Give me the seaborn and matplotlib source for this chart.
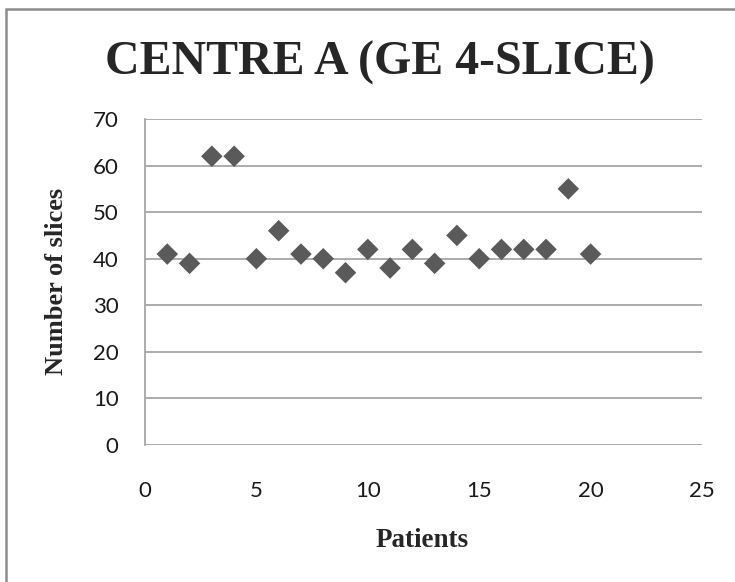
import matplotlib
matplotlib.use("Agg")
import matplotlib.pyplot as plt
import seaborn as sns
import pandas as pd
from matplotlib.patches import Rectangle

patients = list(range(1, 21))
slices = [41, 39, 62, 62, 40, 46, 41, 40, 37, 42, 38, 42, 39, 45, 40, 42, 42, 42, 55, 41]
x_ticks = [0, 5, 10, 15, 20, 25]
y_ticks = [0, 10, 20, 30, 40, 50, 60, 70]

df = pd.DataFrame({"Patients": patients, "Number of slices": slices})

sns.set_style("white")
plt.rcParams["font.family"] = ["Lato", "DejaVu Sans"]

W, H = 735, 582
fig = plt.figure(figsize=(W / 100, H / 100), dpi=100)
ax = fig.add_axes([145 / W, 1 - 445 / H, (702 - 145) / W, (445 - 119) / H])

sns.scatterplot(data=df, x="Patients", y="Number of slices", ax=ax,
                marker="D", s=120, color="#5a5a5a", edgecolor="none", zorder=3)

ax.set_xlim(0, 25)
ax.set_ylim(0, 70)
ax.set_xticks(x_ticks)
ax.set_yticks(y_ticks)
ax.yaxis.grid(True, color="#a6a6a6", linewidth=1.3)
ax.xaxis.grid(False)
for side in ["top", "right", "bottom"]:
    ax.spines[side].set_visible(False)
ax.spines["left"].set_color("#a6a6a6")
ax.spines["left"].set_linewidth(1.3)
ax.tick_params(axis="both", length=0, labelsize=16, colors="#1a1a1a")
ax.tick_params(axis="x", pad=26)
ax.tick_params(axis="y", pad=19)

serif = ["Liberation Serif", "DejaVu Serif"]
ax.set_xlabel("")
ax.set_ylabel("")
fig.text(422 / W, 1 - 547 / H, "Patients", family=serif, fontweight="bold",
         fontsize=19.5, ha="center", va="baseline")
fig.text(57 / W, 1 - 281 / H, "Number of slices", family=serif, fontweight="bold",
         fontsize=19, ha="center", va="center", rotation=90)
fig.text(380 / W, 1 - 75 / H, "CENTRE A (GE 4-SLICE)", family=serif, fontweight="bold",
         fontsize=34.5, ha="center", va="baseline")

# outer chart frame
fig.patches.append(Rectangle((6 / W, -0.05), 1.0, 1 - 9 / H + 0.05,
                             transform=fig.transFigure, fill=False,
                             edgecolor="#8c8c8c", linewidth=1.8, clip_on=False))

fig.savefig("out.png", dpi=100)
